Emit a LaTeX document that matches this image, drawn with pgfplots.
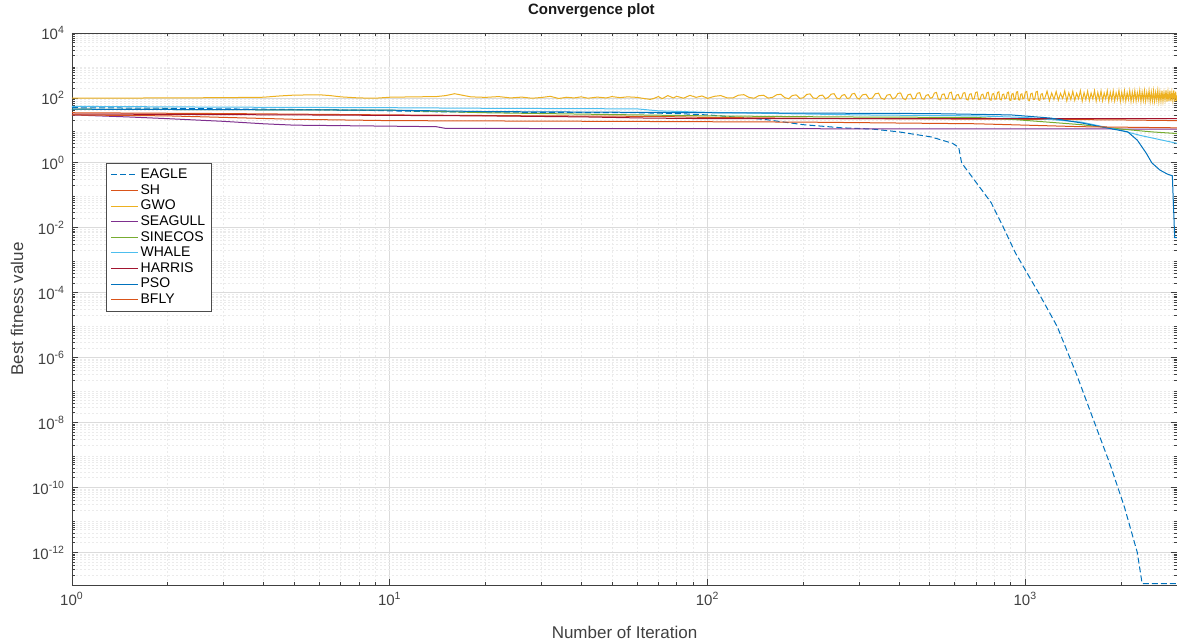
\documentclass[border=0pt]{standalone}
\usepackage{fontspec}
\setmainfont{Liberation Sans}
\usepackage{pgfplots}
\pgfplotsset{compat=1.18}

\definecolor{c1}{rgb}{0,0.447,0.741}
\definecolor{c2}{rgb}{0.85,0.325,0.098}
\definecolor{c3}{rgb}{0.929,0.694,0.125}
\definecolor{c4}{rgb}{0.494,0.184,0.556}
\definecolor{c5}{rgb}{0.466,0.674,0.188}
\definecolor{c6}{rgb}{0.301,0.745,0.933}
\definecolor{c7}{rgb}{0.635,0.078,0.184}

% minor tick lists (2..9 in every decade)
\def\xminorlist{1}
\foreach \e in {0,...,3}{\foreach \m in {2,...,9}{\xdef\xminorlist{\xminorlist,\m e\e}}}
\def\yminorlist{1e-13}
\foreach \e in {-13,...,3}{\foreach \m in {2,...,9}{\xdef\yminorlist{\yminorlist,\m e\e}}}

\begin{document}
\begin{tikzpicture}
\begin{axis}[
  at={(0,0)}, anchor=south west,
  scale only axis,
  width=552.5pt, height=276pt,
  clip mode=individual,
  xmode=log, ymode=log,
  xmin=1, xmax=3000, ymin=1e-13, ymax=1e4,
  xtick={1,10,100,1000},
  xticklabels={10\textsuperscript{0},10\textsuperscript{1},10\textsuperscript{2},10\textsuperscript{3}},
  ytick={1e-12,1e-10,1e-8,1e-6,1e-4,1e-2,1,1e2,1e4},
  yticklabels={10\textsuperscript{-12},10\textsuperscript{-10},10\textsuperscript{-8},10\textsuperscript{-6},10\textsuperscript{-4},10\textsuperscript{-2},10\textsuperscript{0},10\textsuperscript{2},10\textsuperscript{4}},
  minor xtick/.expanded={\xminorlist},
  minor ytick/.expanded={\yminorlist},
  grid=both,
  major grid style={draw=black!14, line width=0.4pt},
  minor grid style={draw=black!8, line width=0.35pt, dash pattern=on 1pt off 1pt},
  tick align=inside,
  major tick length=3pt, minor tick length=1.6pt,
  axis line style={draw=black!75, line width=0.4pt},
  every tick/.style={draw=black!75, line width=0.4pt},
  ticklabel style={font=\fontsize{7.5}{9}\selectfont, text=black!75},
  xlabel={Number of Iteration},
  xlabel style={at={(axis description cs:0.5,-0.085)}, anchor=center,
    font=\fontsize{8.5}{10}\selectfont, text=black!75},
  ylabel={Best fitness value},
  ylabel style={at={(axis description cs:-0.0498,0.5)}, anchor=center,
    font=\fontsize{8.5}{10}\selectfont, text=black!75},
  legend style={at={(axis description cs:0.031,0.765)}, anchor=north west,
    font=\fontsize{7}{8}\selectfont, draw=black!70, line width=0.4pt,
    fill=white, inner xsep=2pt, inner ysep=2pt, row sep=0pt,
    nodes={inner sep=1pt, text height=4.8pt, text depth=1pt, anchor=west}},
  legend cell align=left,
  legend image code/.code={\draw[#1] (0pt,0pt) -- (13.5pt,0pt);},
  every axis plot/.append style={line width=0.5pt},
]

% EAGLE
\addplot[c1, dash pattern=on 3pt off 1.5pt] coordinates {
  (1,50)(2,48)(3,46)(5,44)(8,42)(10,40)(15,37)(30,36)(60,35)(80,33)
  (100,30)(150,22)(200,15)(265,12)(330,11)(400,9)(505,6.3)(590,4)
  (617,3)(630,1)(700,0.25)(780,0.06)(850,0.011)(930,0.0017)
  (1100,1e-4)(1260,9e-6)(1450,3e-7)(1650,1e-8)(1850,5e-10)
  (2050,2.5e-11)(2250,1e-12)(2330,1.1e-13)(3000,1.1e-13)
};
\addlegendentry{EAGLE}

% SH
\addplot[c2] coordinates {
  (1,35)(3,33)(10,30)(30,28)(70,27)(100,25)(300,23)(1000,22)(2000,21)(3000,20)
};
\addlegendentry{SH}

% GWO
\addplot[c3] coordinates {
  (1,98)(2,100)(3,102)(4,105)(4.5,115)(5,122)(6,125)(6.5,118)(7,108)
  (8,100)(9,98)(10,105)(12,108)(14,110)(15,118)(16,135)(17,120)(18,108)
  (20,104)(22,110)(24,100)(26,106)(28,98)(30,103)(32,112)(34,96)(36,105)
  (38,100)(40,108)(42,98)(45,106)(48,100)(50,110)(53,102)(56,108)(60,104)
  (63,96)(66,90)(68,98)(70,110)(72,95)(75,118)(78,100)(80,112)(84,98)
  (88,120)(92,104)(96,115)
  (100,97)(105,112)(110,118)(115,101)(120,100)(125,121)(130,126)(135,104)
  (140,98)(145,117)(150,121)(155,99)(160,104)(165,125)(170,130)(175,102)
  (180,95)(185,119)(190,124)(195,97)(200,101)(205,128)(210,133)(215,100)
  (220,96)(225,118)(230,122)(235,94)(240,105)(245,131)(250,135)(255,99)
  (260,93)(265,120)(270,127)(275,96)(280,100)(285,133)(290,138)(295,101)
  (300,92)(307,124)(315,130)(322,95)(330,99)(337,134)(345,140)(352,97)
  (360,90)(367,122)(375,128)(382,94)(390,102)(397,137)(405,142)(412,96)
  (420,88)(427,125)(435,131)(442,93)(450,97)(457,139)(465,145)(472,95)
  (480,91)(487,120)(495,126)(502,98)(510,103)(517,141)(525,148)(532,92)
  (540,87)(547,127)(555,133)(562,94)(570,96)(577,143)(585,150)(592,90)
  (600,89)(607,122)(615,128)(622,95)(630,100)(637,140)(645,146)(652,91)
  (660,86)(667,129)(675,135)(682,92)(690,94)(697,145)(705,152)(712,89)
  (720,88)(727,124)(735,130)(742,96)(750,99)(757,143)(765,149)(772,88)
  (780,85)(787,131)(795,137)(802,91)(810,93)(817,147)(825,154)(832,90)
  (840,87)(847,126)(855,131)(862,94)(870,98)(877,145)(885,151)(892,86)
  (900,84)(907,132)(915,138)(922,90)(930,92)(937,150)(945,156)(952,88)
  (960,86)(967,129)(975,134)(982,93)(990,97)(1000,151)(1010,158)(1020,86)
  (1030,83)(1040,134)(1050,140)(1060,89)(1070,91)(1080,153)(1090,160)(1100,87)
  (1110,84)(1120,130)(1130,136)(1140,92)(1150,95)(1170,162)(1190,82)(1210,142)
  (1230,90)(1250,158)(1270,85)(1290,138)(1310,96)(1330,165)(1350,81)(1370,144)
  (1390,89)(1410,160)(1430,84)(1450,139)(1470,94)(1490,166)(1510,80)(1530,146)
  (1550,88)(1570,162)(1590,83)(1610,141)(1630,93)(1650,168)(1670,80)(1690,147)
  (1710,87)(1730,163)(1750,82)(1770,143)(1790,92)(1810,167)(1830,79)(1850,148)
  (1870,86)(1890,164)(1910,81)(1930,144)(1950,91)(1970,169)(1990,79)(2010,149)
  (2030,85)(2050,165)(2070,80)(2090,145)(2110,90)(2130,168)(2150,78)(2170,150)
  (2190,84)(2210,166)(2230,80)(2250,146)(2270,89)(2290,170)(2310,78)(2330,151)
  (2350,83)(2370,165)(2390,80)(2410,147)(2430,88)(2450,169)(2470,78)(2490,152)
  (2510,82)(2530,166)(2550,79)(2570,148)(2590,87)(2610,170)(2630,77)(2650,153)
  (2670,81)(2690,167)(2710,79)(2730,149)(2750,86)(2770,171)(2790,77)(2810,154)
  (2830,80)(2850,168)(2870,78)(2890,150)(2910,85)(2930,170)(2950,77)(2970,155)
  (2990,81)(3000,120)
};
\addlegendentry{GWO}

% SEAGULL
\addplot[c4] coordinates {
  (1,30)(1.5,26)(2,23)(3,19)(4,16)(5,14.5)(10,13.5)(14,13)(15,11.5)(3000,11)
};
\addlegendentry{SEAGULL}

% SINECOS
\addplot[c5] coordinates {
  (1,45)(10,42)(20,35)(60,30)(100,28)(250,26)(700,25)(900,22)(1500,15)
  (2000,11)(2500,9)(3000,8)
};
\addlegendentry{SINECOS}

% WHALE
\addplot[c6] coordinates {
  (1,55)(3,52)(10,50)(20,48)(60,46)(70,40)(100,36)(300,30)(700,28)(1000,25)
  (1500,18)(2000,10)(2300,7)(3000,4)
};
\addlegendentry{WHALE}

% HARRIS
\addplot[c7] coordinates {
  (1,32)(5,30)(20,28)(41,26)(64,24)(100,23)(300,23)(700,23)(1000,23)(3000,23)
};
\addlegendentry{HARRIS}

% PSO
\addplot[c1] coordinates {
  (1,45)(10,42)(20,38)(60,36)(100,35)(500,33)(900,30)(1200,24)(1500,17)
  (1800,12)(2100,9)(2250,5)(2400,2)(2500,1)(2650,0.6)(2800,0.45)(2900,0.4)
  (2950,0.005)(3000,0.005)
};
\addlegendentry{PSO}

% BFLY
\addplot[c2] coordinates {
  (1,30)(2,28)(5,22)(10,20)(50,19)(200,18)(700,16)(1500,13)(3000,12)
};
\addlegendentry{BFLY}

\node[font=\fontsize{7.5}{9}\selectfont\bfseries, text=black!90]
  at (axis description cs:0.47,1.04) {Convergence plot};
\end{axis}
\pgfresetboundingbox
\path[use as bounding box] (-36pt,-27.5pt) rectangle (552.5pt,292.5pt);
\end{tikzpicture}
\end{document}
